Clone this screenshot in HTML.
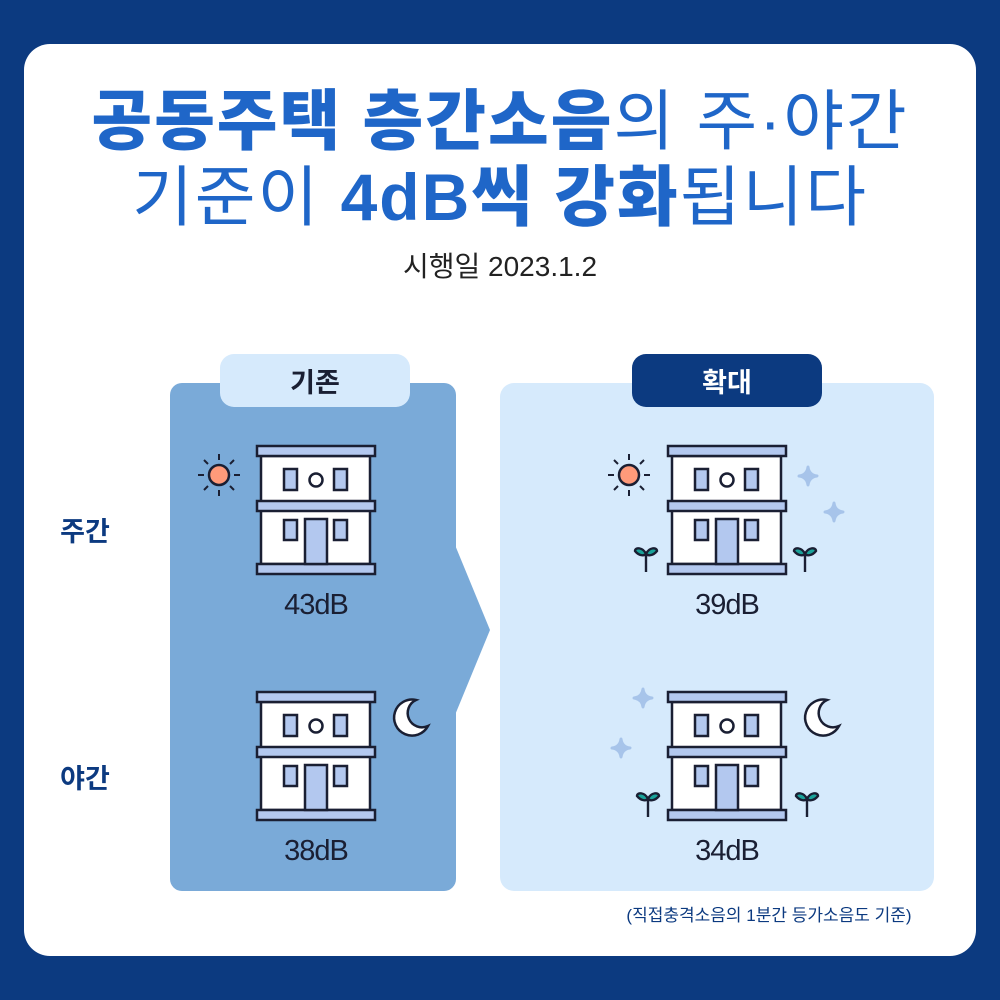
<!DOCTYPE html>
<html><head><meta charset="utf-8"><style>
body{margin:0;width:1000px;height:1000px;background:#0c3a80;font-family:"Liberation Sans","Noto Sans CJK KR",sans-serif;position:relative;overflow:hidden}
.card{position:absolute;left:24px;top:44px;width:952px;height:912px;background:#fff;border-radius:26px}
.t{position:absolute;left:0;width:1000px;text-align:center;color:#1f66c8;white-space:nowrap}
.b{font-weight:900}
</style></head><body>
<div class="card"></div>
<div class="t" style="top:68px;font-size:66px;letter-spacing:2px"><span class="b">공동주택 층간소음</span>의 주·야간</div>
<div class="t" style="top:144px;font-size:66px;letter-spacing:2px">기준이 <span class="b">4dB씩 강화</span>됩니다</div>
<div class="t" style="top:245px;font-size:28px;color:#222">시행일 2023.1.2</div>
<svg width="1000" height="1000" style="position:absolute;left:0;top:0" font-family="Liberation Sans, Noto Sans CJK KR, sans-serif">
<defs>
<g id="bld" stroke="#1a1f33" stroke-width="2.5">
<rect x="4" y="10" width="109" height="108" fill="#fff"/>
<rect x="0" y="0" width="118" height="10" fill="#b3c8ef"/>
<rect x="0" y="55" width="118" height="10" fill="#b3c8ef"/>
<rect x="0" y="118" width="118" height="10" fill="#b3c8ef"/>
<rect x="27" y="23" width="13" height="21" fill="#b3c8ef"/>
<rect x="77" y="23" width="13" height="21" fill="#b3c8ef"/>
<circle cx="59" cy="34" r="6.5" fill="#fff"/>
<rect x="27" y="74" width="13" height="20" fill="#b3c8ef"/>
<rect x="77" y="74" width="13" height="20" fill="#b3c8ef"/>
<rect x="48" y="73" width="22" height="45" fill="#b3c8ef"/>
</g>
<g id="sun" stroke="#1a1f33" stroke-width="2.5">
<circle cx="0" cy="0" r="10" fill="#ff9a7a"/>
<g stroke-width="2"><path d="M0 -21V-15M0 15V21M-21 0H-15M15 0H21M-15 -15L-11 -11M11 11L15 15M15 -15L11 -11M-11 11L-15 15"/></g>
</g>
<g id="moon"><path d="M6 -18 A18 18 0 1 0 18 8 A14 14 0 0 1 6 -18Z" fill="#fff" stroke="#1a1f33" stroke-width="2.5"/></g>
<g id="spr" stroke="#1a1f33" stroke-width="2.4"><path d="M0 0V20" fill="none"/><path d="M0 2C-3 -5 -11 -5 -11 -1C-7 4 -2 4 0 2Z" fill="#1aa39a"/><path d="M0 2C3 -5 11 -5 11 -1C7 4 2 4 0 2Z" fill="#1aa39a"/></g>
<g id="spk"><path d="M0 -9Q1 -1 9 0Q1 1 0 9Q-1 1 -9 0Q-1 -1 0 -9Z" fill="#a7c4ea" stroke="#a7c4ea" stroke-width="3" stroke-linejoin="round"/></g>
</defs>
<rect x="170" y="383" width="286" height="508" rx="12" fill="#7aaad8"/>
<path d="M455 545L490 630L455 715Z" fill="#7aaad8"/>
<rect x="500" y="383" width="434" height="508" rx="14" fill="#d6eafc"/>
<rect x="220" y="354" width="190" height="53" rx="14" fill="#d6eafc"/>
<text x="315" y="392" font-size="27" font-weight="700" text-anchor="middle" fill="#1a1f33">기존</text>
<rect x="632" y="354" width="190" height="53" rx="14" fill="#0c3a80"/>
<text x="727" y="392" font-size="27" font-weight="700" text-anchor="middle" fill="#fff">확대</text>
<text x="85" y="541" font-size="27" font-weight="700" text-anchor="middle" fill="#0c3a80">주간</text>
<text x="85" y="788" font-size="27" font-weight="700" text-anchor="middle" fill="#0c3a80">야간</text>
<use href="#bld" x="257" y="446"/><use href="#bld" x="257" y="692"/>
<use href="#bld" x="668" y="446"/><use href="#bld" x="668" y="692"/>
<use href="#sun" x="219" y="475"/><use href="#sun" x="629" y="475"/>
<use href="#moon" x="410" y="718"/><use href="#moon" x="821" y="718"/>
<use href="#spr" x="646" y="552"/><use href="#spr" x="805" y="552"/>
<use href="#spr" x="648" y="797"/><use href="#spr" x="807" y="797"/>
<use href="#spk" x="808" y="476"/><use href="#spk" x="834" y="512"/>
<use href="#spk" x="643" y="698"/><use href="#spk" x="621" y="748"/>
<g font-size="29" text-anchor="middle" fill="#1a1f33" letter-spacing="-1">
<text x="316" y="614">43dB</text><text x="316" y="860">38dB</text>
<text x="727" y="614">39dB</text><text x="727" y="860">34dB</text>
</g>
<text x="769" y="921" font-size="17" text-anchor="middle" fill="#0c3a80">(직접충격소음의 1분간 등가소음도 기준)</text>
</svg>
</body></html>
